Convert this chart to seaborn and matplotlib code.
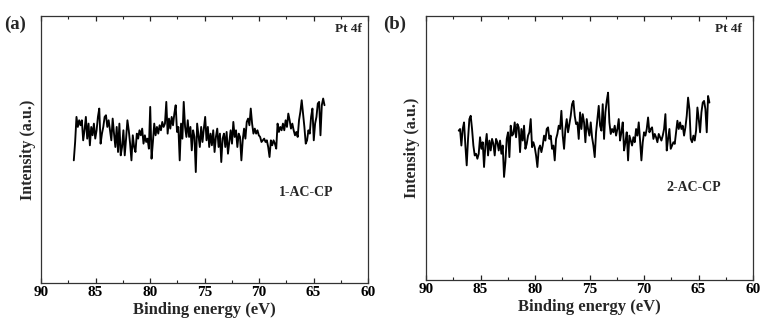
import numpy as np
import pandas as pd
import matplotlib
matplotlib.use("Agg")
import matplotlib.pyplot as plt
import seaborn as sns
from matplotlib.ticker import MultipleLocator

# ---- data (intensity in arbitrary units) ----
scan_start_ev = 87.0
scan_end_ev = 64.0

intensity_a = [
    460, 515, 590, 560, 580, 565, 580, 520, 550, 590, 525, 570, 505, 560, 535, 570, 525, 550, 590, 615,
    510, 540, 560, 590, 595, 560, 580, 550, 520, 585, 540, 500, 560, 485, 570, 475, 500, 550, 475, 525,
    580, 550, 510, 460, 535, 500, 485, 540, 525, 550, 535, 555, 510, 535, 515, 525, 495, 620, 465, 515,
    570, 535, 560, 540, 565, 550, 575, 560, 570, 635, 540, 585, 555, 590, 565, 600, 625, 545, 560, 460,
    570, 525, 635, 560, 530, 580, 530, 560, 490, 550, 530, 425, 570, 535, 500, 560, 515, 555, 590, 520,
    560, 500, 540, 505, 550, 485, 530, 555, 500, 540, 455, 525, 540, 500, 545, 480, 515, 550, 510, 575,
    530, 550, 500, 540, 530, 460, 520, 555, 525, 575, 585, 565, 615, 570, 540, 555, 540, 550, 535, 530,
    515, 520, 525, 515, 520, 500, 470, 520, 505, 520, 510, 495, 570, 545, 560, 550, 570, 550, 580, 560,
    600, 580, 555, 570, 550, 535, 545, 530, 580, 605, 640, 600, 560, 510, 520, 550, 540, 590, 615, 520,
    570, 590, 630, 635, 535, 625, 645, 625,
]

intensity_b = [
    545, 550, 500, 550, 570, 500, 440, 520, 580, 590, 550, 500, 470, 475, 460, 475, 525, 490, 510, 435,
    500, 535, 470, 515, 485, 520, 505, 470, 520, 510, 485, 515, 475, 500, 405, 450, 520, 540, 465, 560,
    530, 535, 570, 525, 565, 555, 480, 550, 515, 560, 490, 505, 530, 540, 580, 495, 510, 495, 470, 435,
    490, 500, 480, 500, 530, 515, 550, 555, 520, 530, 490, 500, 455, 520, 535, 560, 550, 605, 530, 490,
    550, 580, 540, 565, 590, 625, 635, 590, 565, 570, 520, 600, 550, 595, 570, 510, 580, 550, 530, 570,
    525, 500, 465, 540, 580, 620, 560, 545, 625, 520, 600, 635, 660, 570, 535, 550, 540, 560, 530, 550,
    580, 515, 540, 570, 485, 510, 540, 455, 530, 515, 500, 525, 510, 550, 530, 570, 515, 455, 510, 540,
    530, 550, 585, 540, 550, 555, 520, 535, 525, 510, 535, 525, 515, 530, 550, 595, 485, 520, 550, 490,
    500, 510, 505, 540, 575, 550, 570, 550, 560, 530, 555, 590, 645, 610, 520, 510, 530, 515, 545, 615,
    580, 540, 600, 630, 635, 610, 540, 650, 630,
]

panel_letters = ["(a)", "(b)"]
sample_names = ["1-AC-CP", "2-AC-CP"]
core_level = "Pt 4f"
x_ticks = [90, 85, 80, 75, 70, 65, 60]

# ---- style ----
sns.set_theme(style="ticks")
plt.rcParams["font.family"] = ["Liberation Serif", "DejaVu Serif"]
plt.rcParams["font.weight"] = "bold"
plt.rcParams["axes.labelweight"] = "bold"

fig = plt.figure(figsize=(7.61, 3.29), dpi=100)
ax_a = fig.add_axes([0.054, 0.1398, 0.4297, 0.8116])
ax_b = fig.add_axes([0.5598, 0.1489, 0.4297, 0.8025])

panels = [
    (ax_a, intensity_a, panel_letters[0], sample_names[0], (0.81, 0.34), (0.982, 0.975)),
    (ax_b, intensity_b, panel_letters[1], sample_names[1], (0.82, 0.35), (0.966, 0.975)),
]

for ax, inten, letter, name, name_pos, core_pos in panels:
    energy = np.linspace(scan_start_ev, scan_end_ev, len(inten))
    df = pd.DataFrame({"Binding energy (eV)": energy, "Intensity": inten})
    sns.lineplot(data=df, x="Binding energy (eV)", y="Intensity", ax=ax,
                 color="black", linewidth=1.35, estimator=None, sort=False)
    ax.set_xlim(90, 60)
    ax.set_ylim(93, 892)
    ax.set_xticks(x_ticks)
    ax.xaxis.set_minor_locator(MultipleLocator(2.5))
    ax.set_yticks([])
    ax.tick_params(axis="x", which="major", direction="in", length=3.5, width=0.9,
                   labelsize=11, pad=2, top=True, colors="#222222", labelcolor="black")
    ax.tick_params(axis="x", which="minor", direction="in", length=2, width=0.8,
                   top=True, colors="#222222")
    for lbl in ax.get_xticklabels():
        lbl.set_fontweight("bold")
    for s in ax.spines.values():
        s.set_visible(True)
        s.set_linewidth(0.9)
        s.set_color("#333333")
    ax.set_xlabel("Binding energy (eV)", fontsize=12, fontweight="bold", labelpad=2)
    ax.set_ylabel("Intensity (a.u.)", fontsize=11.5, fontweight="bold", labelpad=4)
    ax.text(name_pos[0], name_pos[1], name, transform=ax.transAxes, ha="center", va="center",
            fontsize=10, fontweight="bold")
    ax.text(core_pos[0], core_pos[1], core_level, transform=ax.transAxes, ha="right", va="top",
            fontsize=9.5, fontweight="bold")

fig.text(0.006, 0.925, panel_letters[0], ha="left", va="center", fontsize=13.5, fontweight="bold")
fig.text(0.503, 0.925, panel_letters[1], ha="left", va="center", fontsize=13.5, fontweight="bold")

fig.savefig("out.png", dpi=100, facecolor="white")
